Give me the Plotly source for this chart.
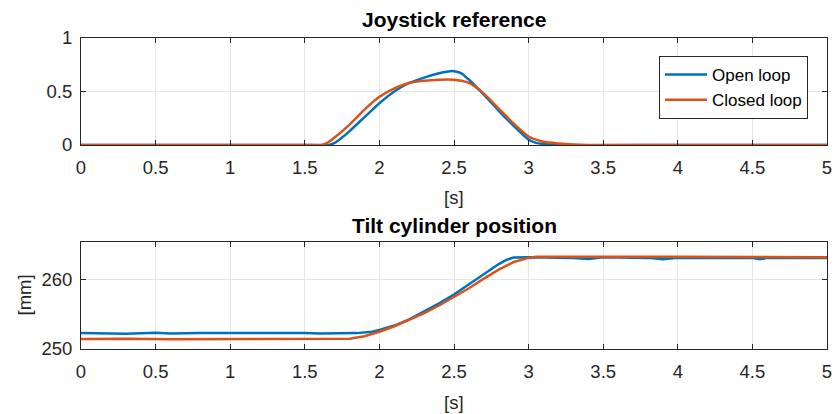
import plotly.graph_objects as go
from plotly.subplots import make_subplots

# Joystick reference
joy_t_open = [0, 1.6, 1.66, 1.7, 1.75, 1.8, 1.9, 2.0, 2.1, 2.2, 2.3, 2.4, 2.45, 2.5, 2.55, 2.6, 2.7, 2.8, 2.9, 3.0, 3.05, 3.1, 3.2, 4.0, 5.0]
joy_open = [0, 0, 0, 0.02, 0.07, 0.13, 0.26, 0.39, 0.50, 0.58, 0.63, 0.67, 0.685, 0.69, 0.67, 0.61, 0.47, 0.32, 0.18, 0.05, 0.02, 0.01, 0.0, 0, 0]
joy_t_closed = [0, 1.5, 1.615, 1.65, 1.7, 1.8, 1.9, 2.0, 2.1, 2.2, 2.3, 2.4, 2.5, 2.55, 2.6, 2.7, 2.8, 2.9, 3.0, 3.05, 3.1, 3.2, 3.3, 3.4, 4.0, 5.0]
joy_closed = [0, 0, 0, 0.02, 0.07, 0.19, 0.33, 0.45, 0.53, 0.58, 0.60, 0.61, 0.61, 0.60, 0.58, 0.48, 0.34, 0.20, 0.08, 0.05, 0.03, 0.015, 0.005, 0, 0, 0]

# Tilt cylinder position [mm]
tilt_t_open = [0, 0.25, 0.3, 0.5, 0.6, 0.8, 1.0, 1.2, 1.5, 1.6, 1.85, 1.9, 1.95, 2.0, 2.1, 2.2, 2.3, 2.4, 2.5, 2.6, 2.7, 2.8, 2.85, 2.9, 3.0, 3.3, 3.4, 3.5, 3.8, 3.9, 4.0, 4.5, 4.55, 4.6, 5.0]
tilt_open = [252.3, 252.3, 252.2, 252.35, 252.25, 252.3, 252.25, 252.3, 252.3, 252.25, 252.3, 252.35, 252.5, 252.75, 253.4, 254.3, 255.4, 256.6, 257.9, 259.4, 260.9, 262.3, 262.9, 263.25, 263.3, 263.2, 263.05, 263.3, 263.2, 263.0, 263.2, 263.2, 263.0, 263.2, 263.2]
tilt_t_closed = [0, 0.3, 0.6, 1.0, 1.4, 1.75, 1.8, 1.9, 2.0, 2.1, 2.2, 2.3, 2.4, 2.5, 2.6, 2.7, 2.8, 2.9, 3.0, 3.05, 3.5, 4.0, 5.0]
tilt_closed = [251.45, 251.5, 251.4, 251.45, 251.45, 251.45, 251.5, 251.85, 252.5, 253.3, 254.2, 255.2, 256.3, 257.5, 258.8, 260.2, 261.5, 262.6, 263.2, 263.35, 263.4, 263.35, 263.3]

x_ticks = [0, 0.5, 1, 1.5, 2, 2.5, 3, 3.5, 4, 4.5, 5]
x_tick_labels = ["0", "0.5", "1", "1.5", "2", "2.5", "3", "3.5", "4", "4.5", "5"]

BLUE = "#0072BD"
ORANGE = "#D95319"
FONT = "Liberation Sans, Arial, sans-serif"
AX = "#262626"
TICK_SIZE = 18.5

fig = make_subplots(rows=2, cols=1, vertical_spacing=0.0)

fig.add_trace(go.Scatter(x=joy_t_open, y=joy_open, mode="lines", name="Open loop",
                         line=dict(color=BLUE, width=2.5, shape="spline", smoothing=0.6)), row=1, col=1)
fig.add_trace(go.Scatter(x=joy_t_closed, y=joy_closed, mode="lines", name="Closed loop",
                         line=dict(color=ORANGE, width=2.5, shape="spline", smoothing=0.6)), row=1, col=1)
fig.add_trace(go.Scatter(x=tilt_t_open, y=tilt_open, mode="lines", showlegend=False,
                         line=dict(color=BLUE, width=2.5)), row=2, col=1)
fig.add_trace(go.Scatter(x=tilt_t_closed, y=tilt_closed, mode="lines", showlegend=False,
                         line=dict(color=ORANGE, width=2.5)), row=2, col=1)

axis_common = dict(showline=True, linecolor=AX, linewidth=1, mirror="ticks",
                   ticks="inside", ticklen=5, tickcolor=AX, automargin=False,
                   showgrid=True, gridcolor="#E6E6E6", gridwidth=1, zeroline=False,
                   tickfont=dict(family=FONT, size=TICK_SIZE, color=AX))

top_dom = [(349 - 145) / 311, 1.0]
bot_dom = [0.0, (349 - 242) / 311]

fig.update_xaxes(range=[0, 5], tickvals=x_ticks, ticktext=x_tick_labels, ticklabelstandoff=6, **axis_common)
fig.update_yaxes(ticklabelstandoff=4, **axis_common)
fig.update_yaxes(range=[0, 1], tickvals=[0, 0.5, 1], ticktext=["0", "0.5", "1"], domain=top_dom, row=1, col=1)
fig.update_yaxes(range=[250, 265.5], tickvals=[250, 260], ticktext=["250", "260"], domain=bot_dom, row=2, col=1)

lbl_font = dict(family=FONT, size=TICK_SIZE, color=AX)
title_font = dict(family=FONT, size=21, color="black")

fig.update_layout(
    width=835, height=414,
    margin=dict(l=81, r=8, t=38, b=65),
    plot_bgcolor="white", paper_bgcolor="white",
    font=dict(family=FONT, color=AX),
    legend=dict(x=(808 - 81) / 746, y=(349 - 56) / 311, xanchor="right", yanchor="top",
                xref="paper", yref="paper", itemwidth=42,
                bgcolor="white", bordercolor=AX, borderwidth=1,
                font=dict(family=FONT, size=17, color="black"), tracegroupgap=0),
    annotations=[
        dict(text="<b>Joystick reference</b>", x=0.5, y=1, xref="paper", yref="paper",
             xanchor="center", yanchor="middle", yshift=19, showarrow=False, font=title_font),
        dict(text="<b>Tilt cylinder position</b>", x=0.5, y=bot_dom[1], xref="paper", yref="paper",
             xanchor="center", yanchor="middle", yshift=17, showarrow=False, font=title_font),
        dict(text="[s]", x=0.5, y=top_dom[0], xref="paper", yref="paper",
             xanchor="center", yanchor="middle", yshift=-52, showarrow=False, font=lbl_font),
        dict(text="[s]", x=0.5, y=0, xref="paper", yref="paper",
             xanchor="center", yanchor="middle", yshift=-53, showarrow=False, font=lbl_font),
        dict(text="[mm]", x=0, y=sum(bot_dom) / 2, xref="paper", yref="paper",
             xanchor="center", yanchor="middle", xshift=-57, showarrow=False, textangle=-90,
             font=lbl_font),
    ],
)

fig.write_html("out.html")
